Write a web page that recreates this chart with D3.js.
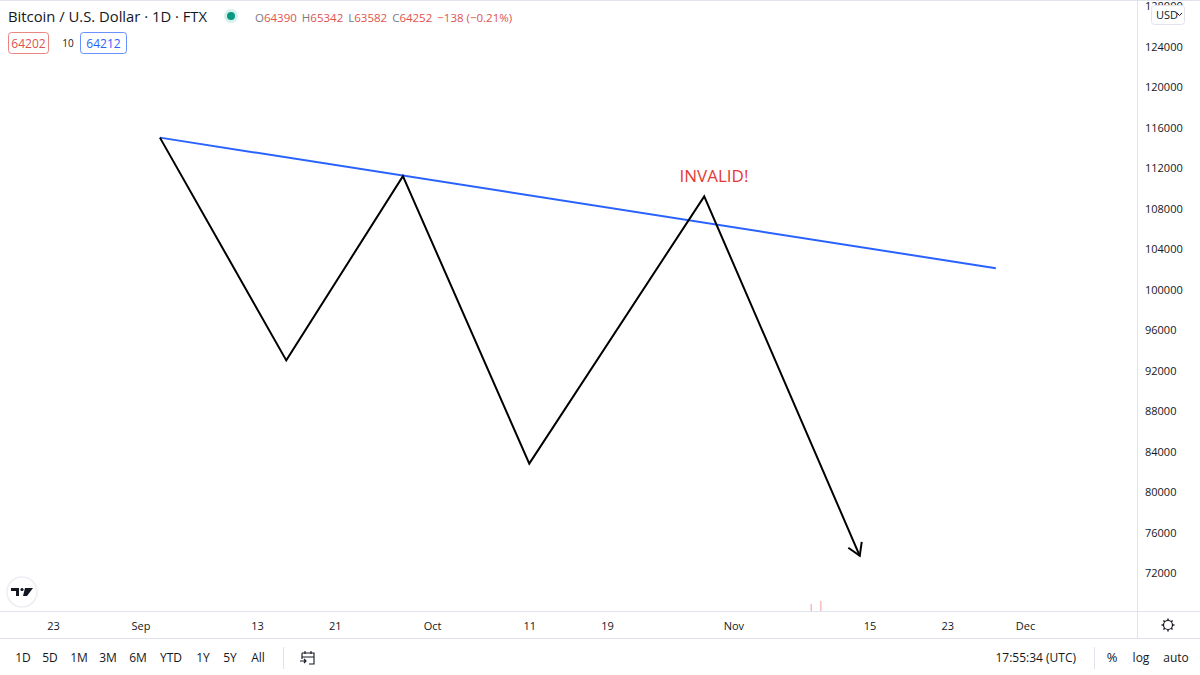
<!DOCTYPE html>
<html><head><meta charset="utf-8">
<script src="https://cdn.jsdelivr.net/npm/d3@7"></script>
<style>
html,body{margin:0;padding:0;background:#fff;}
svg text{font-family:"Open Sans","DejaVu Sans",sans-serif;}
</style></head>
<body>
<svg id="c" width="1200" height="675"></svg>
<script>
// ---- data ----
const zigzagDates = ["2021-09-03","2021-09-16","2021-09-28","2021-10-11","2021-10-29","2021-11-14"];
const zigzagValues = [115000, 93000, 111200, 82800, 109200, 73700];
const trendDates = ["2021-09-03","2021-11-28"];
const trendValues = [115000, 102100];
const volumeDates = ["2021-11-09","2021-11-10"];
const volumeValues = [7, 10];
const priceTicks = [72000,76000,80000,84000,88000,92000,96000,100000,104000,108000,112000,116000,120000,124000,128000];
const timeTickDates = ["2021-08-23","2021-09-01","2021-09-13","2021-09-21","2021-10-01","2021-10-11","2021-10-19","2021-11-01","2021-11-15","2021-11-23","2021-12-01"];
const timeTickLabels = ["23","Sep","13","21","Oct","11","19","Nov","15","23","Dec"];
const annotation = {date:"2021-10-30", value:110600, text:"INVALID!"};
const title = "Bitcoin / U.S. Dollar · 1D · FTX";
const ohlc = [["O","64390"],["H","65342"],["L","63582"],["C","64252"],["","−138 (−0.21%)"]];
const rangeButtons = ["1D","5D","1M","3M","6M","YTD","1Y","5Y","All"];

const svg = d3.select("#c");
const W=1200,H=675, plotR=1137, plotB=611, axisB=638;
const parse = d3.utcParse("%Y-%m-%d");

const x = d3.scaleUtc().domain([parse("2021-08-23"), parse("2021-12-01")]).range([53,1025]);
const y = d3.scaleLinear().domain([72000,128000]).range([573,6]);

// frame lines
svg.append("rect").attr("x",0).attr("y",0).attr("width",W).attr("height",H).attr("fill","#fff");
svg.append("line").attr("x1",plotR+0.5).attr("x2",plotR+0.5).attr("y1",0).attr("y2",axisB).attr("stroke","#e0e3eb");
svg.append("line").attr("x1",0).attr("x2",W).attr("y1",plotB+0.5).attr("y2",plotB+0.5).attr("stroke","#e0e3eb");
svg.append("line").attr("x1",0).attr("x2",W).attr("y1",axisB+0.5).attr("y2",axisB+0.5).attr("stroke","#e0e3eb");
svg.append("line").attr("x1",0).attr("x2",W).attr("y1",0.5).attr("y2",0.5).attr("stroke","#e0e3eb");

// price axis
const yAxis = d3.axisRight(y).tickValues(priceTicks).tickSize(0).tickPadding(0).tickFormat(d3.format("d"));
const yg = svg.append("g").attr("transform",`translate(1145,0)`).call(yAxis);
yg.select(".domain").remove();
yg.selectAll("text").attr("fill","#131722").attr("font-size","11px").attr("x",0).attr("dy","0.35em");

// USD box
const ub = svg.append("g");
ub.append("rect").attr("x",1151.5).attr("y",5.5).attr("width",33).attr("height",19).attr("rx",3).attr("fill","#fff").attr("stroke","#e0e3eb");
ub.append("text").attr("x",1156).attr("y",19).attr("font-size","11px").attr("fill","#131722").text("USD");
ub.append("path").attr("d","M1177 13 l2.5 2.5 l2.5 -2.5").attr("fill","none").attr("stroke","#131722").attr("stroke-width",1);

// time axis
const xAxis = d3.axisBottom(x).tickValues(timeTickDates.map(parse)).tickSize(0).tickPadding(0)
  .tickFormat((d,i)=>timeTickLabels[i]);
const xg = svg.append("g").attr("transform",`translate(0,${plotB})`).call(xAxis);
xg.select(".domain").remove();
xg.selectAll("text").attr("fill","#131722").attr("font-size","11px").attr("y",15).attr("dy","0.35em");

// volume ticks
svg.append("g").selectAll("rect").data(volumeDates).join("rect")
  .attr("x",(d)=>x(parse(d))-0.5).attr("width",1)
  .attr("y",(d,i)=>plotB-volumeValues[i]).attr("height",(d,i)=>volumeValues[i])
  .attr("fill","#ef9a9a");

// trend line
const line = d3.line().x(d=>x(d[0])).y(d=>y(d[1]));
svg.append("path").datum(trendDates.map((d,i)=>[parse(d),trendValues[i]]))
  .attr("d",line).attr("fill","none").attr("stroke","#2962ff").attr("stroke-width",2);

// zigzag
const zz = zigzagDates.map((d,i)=>[parse(d),zigzagValues[i]]);
svg.append("path").datum(zz).attr("d",line).attr("fill","none").attr("stroke","#000").attr("stroke-width",2).attr("stroke-linejoin","miter");
// arrow head
const p1 = [x(zz[zz.length-2][0]), y(zz[zz.length-2][1])];
const p2 = [x(zz[zz.length-1][0]), y(zz[zz.length-1][1])];
const ang = Math.atan2(p2[1]-p1[1], p2[0]-p1[0]);
const L=14, spread=0.55;
const a1=[p2[0]-L*Math.cos(ang-spread), p2[1]-L*Math.sin(ang-spread)];
const a2=[p2[0]-L*Math.cos(ang+spread), p2[1]-L*Math.sin(ang+spread)];
svg.append("path").attr("d",`M${a1[0]},${a1[1]}L${p2[0]},${p2[1]}L${a2[0]},${a2[1]}`)
  .attr("fill","none").attr("stroke","#000").attr("stroke-width",2);

// annotation
svg.append("text").attr("x",x(parse(annotation.date))).attr("y",y(annotation.value))
  .attr("text-anchor","middle").attr("font-size","17px").attr("fill","#e53935").text(annotation.text);

// header
svg.append("text").attr("x",8).attr("y",22).attr("font-size","14.8px").attr("fill","#131722").text(title);
svg.append("circle").attr("cx",231).attr("cy",16).attr("r",7).attr("fill","#d6f0ec");
svg.append("circle").attr("cx",231).attr("cy",16).attr("r",4).attr("fill","#089981");
const oh = svg.append("text").attr("x",255).attr("y",22).attr("font-size","11.5px");
ohlc.forEach((p,i)=>{
  if(p[0]) oh.append("tspan").attr("fill","#787b86").attr("dx", i? 5:0).text(p[0]);
  oh.append("tspan").attr("fill","#e0524f").attr("dx", p[0]?0:5).text(p[1]);
});
// second row boxes
svg.append("rect").attr("x",8.5).attr("y",32.5).attr("width",40).attr("height",21).attr("rx",3).attr("fill","#fff").attr("stroke","#e0524f").attr("stroke-opacity",0.7);
svg.append("text").attr("x",28.5).attr("y",47.5).attr("text-anchor","middle").attr("font-size","12px").attr("fill","#e0524f").text("64202");
svg.append("text").attr("x",68).attr("y",47).attr("text-anchor","middle").attr("font-size","10px").attr("fill","#131722").text("10");
svg.append("rect").attr("x",80.5).attr("y",32.5).attr("width",46).attr("height",21).attr("rx",3).attr("fill","#fff").attr("stroke","#2962ff").attr("stroke-opacity",0.7);
svg.append("text").attr("x",103.5).attr("y",47.5).attr("text-anchor","middle").attr("font-size","12px").attr("fill","#2962ff").text("64212");

// TV logo
const lg = svg.append("g").attr("transform","translate(22,592)");
lg.append("circle").attr("r",15).attr("fill","#fff").attr("stroke","#eceef2").attr("stroke-width",1.5);
lg.append("path").attr("d","M-11,-4 h8 v8 h-3 v-5 h-5 z").attr("fill","#131722");
lg.append("circle").attr("cx",0).attr("cy",-2.5).attr("r",1.6).attr("fill","#131722");
lg.append("path").attr("d","M3,-4 h8 l-6,8 h-4 z").attr("fill","#131722");

// gear icon
const gg = svg.append("g").attr("transform","translate(1168,625)");
const teeth=[];
for(let i=0;i<8;i++){const a=i*Math.PI/4; teeth.push([Math.cos(a)*6.5,Math.sin(a)*6.5]);}
gg.append("circle").attr("r",4.5).attr("fill","none").attr("stroke","#131722").attr("stroke-width",1.2);
gg.selectAll("line").data(teeth).join("line").attr("x1",d=>d[0]*0.7).attr("y1",d=>d[1]*0.7).attr("x2",d=>d[0]).attr("y2",d=>d[1]).attr("stroke","#131722").attr("stroke-width",1.4);

// bottom toolbar
const bx=[23,50,79,108,138,171,203,230,258];
svg.append("g").selectAll("text").data(rangeButtons).join("text")
  .attr("x",(d,i)=>bx[i]).attr("y",662).attr("text-anchor","middle").attr("font-size","12px").attr("fill","#131722").text(d=>d);
svg.append("line").attr("x1",283.5).attr("x2",283.5).attr("y1",647).attr("y2",669).attr("stroke","#e0e3eb");
// calendar icon
const cal = svg.append("g").attr("transform","translate(299,650)").attr("fill","none").attr("stroke","#131722").attr("stroke-width",1.1);
cal.append("path").attr("d","M3,3 h12 v11 h-5 M3,3 v4 h12 M6,1 v3 M12,1 v3");
cal.append("path").attr("d","M1,11 h6 M5,9 l2,2 l-2,2 M3,7 v2");
svg.append("text").attr("x",1076).attr("y",662).attr("text-anchor","end").attr("font-size","12px").attr("fill","#131722").text("17:55:34 (UTC)");
svg.append("line").attr("x1",1094.5).attr("x2",1094.5).attr("y1",647).attr("y2",669).attr("stroke","#e0e3eb");
svg.append("text").attr("x",1112).attr("y",662).attr("text-anchor","middle").attr("font-size","13px").attr("fill","#131722").text("%");
svg.append("text").attr("x",1141).attr("y",662).attr("text-anchor","middle").attr("font-size","12px").attr("fill","#131722").text("log");
svg.append("text").attr("x",1176).attr("y",662).attr("text-anchor","middle").attr("font-size","12px").attr("fill","#131722").text("auto");
</script>
</body></html>
